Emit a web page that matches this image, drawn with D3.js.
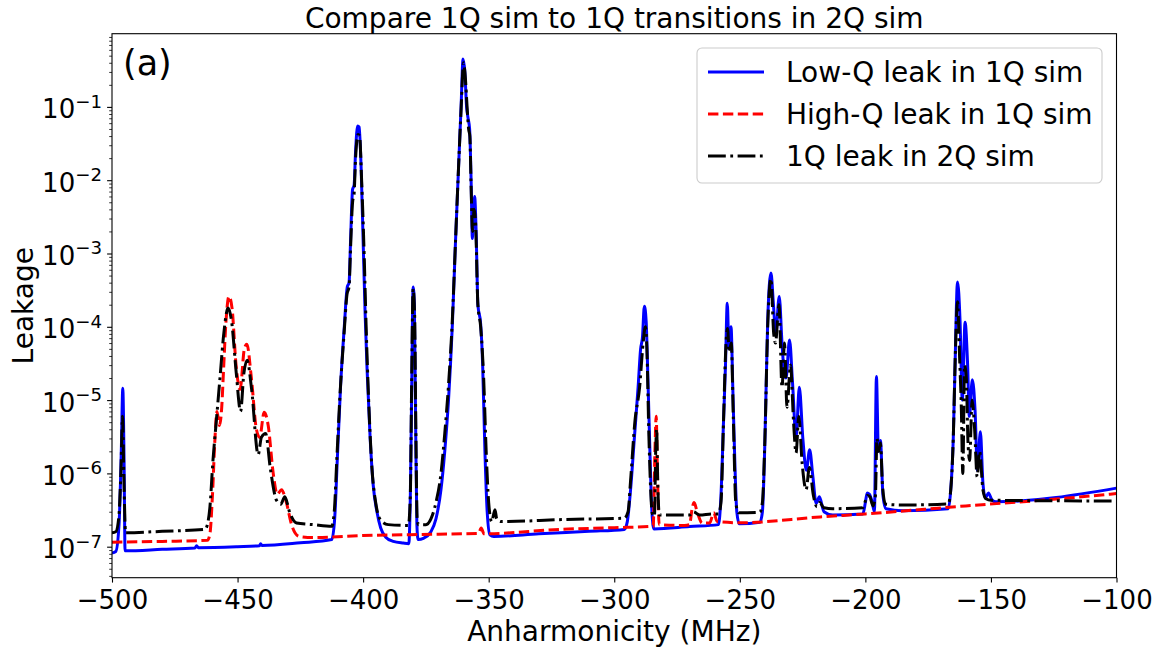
<!DOCTYPE html>
<html>
<head>
<meta charset="utf-8">
<script src="https://cdnjs.cloudflare.com/ajax/libs/d3/7.8.5/d3.min.js"></script>
<style>
  body { margin: 0; background: #fff; }
  text { font-family: "DejaVu Sans", sans-serif; fill: #000; }
</style>
</head>
<body>
<div id="chart"></div>
<script>
// Series names (legend order = draw order)
const seriesNames = ['Low-Q leak in 1Q sim', 'High-Q leak in 1Q sim', '1Q leak in 2Q sim'];

// Low-Q leak in 1Q sim (blue, solid)
const lowQX = [-500, -498.5, -497.2, -496.3, -495.7, -495.2, -494.8, -480, -467, -466.3, -465.6, -450, -441.3, -440.8, -440.3, -425,
  -412.5, -411.3, -410.3, -409, -407.5, -406.3, -405.6, -405, -404.2, -403.6, -403, -402.2, -401.6, -400.8, -400, -399.2, -398.4,
  -397.2, -396, -394.5, -393, -391, -388, -384, -381.8, -381.2, -380.6, -380.1, -379.6, -379.1, -378.6, -378.1, -376, -373, -371,
  -369, -367.5, -366, -364.5, -363.2, -362, -361, -360.2, -359.5, -358.8, -358.2, -357.6, -357, -356.5, -356.1, -355.6, -355,
  -354.3, -353.2, -352.4, -351.5, -350.6, -349.5, -348, -330, -310, -296, -294.8, -293.5, -292, -290.5, -289.5, -288.8, -288,
  -287.3, -286.6, -285.8, -285, -284.2, -270, -258.5, -257.5, -256.5, -255.7, -255, -254.3, -253.5, -252.8, -252, -251.2, -250.2,
  -242, -241, -240, -238.9, -237.6, -236.6, -235.7, -234.3, -233.2, -232.2, -231.6, -230.2, -229, -227.6, -226.3, -224.9, -223.5,
  -222.2, -220.9, -219.6, -218.3, -216.5, -213, -201, -200, -199.3, -198.4, -197.4, -196.4, -195.6, -194.8, -194, -193, -191.8,
  -185, -167, -166, -165, -164.4, -163.3, -162.3, -161.4, -160.3, -159.3, -158.6, -157.4, -156.3, -155.4, -154.2, -153.2, -152.2,
  -151, -149.5, -148, -100];
const lowQY = [8.2e-8, 8.6e-8, 2e-7, 2e-6, 1.45e-5, 1.5e-6, 8.8e-8, 9.2e-8, 9.6e-8, 1.03e-7, 9.7e-8, 1.0e-7, 1.03e-7, 1.1e-7, 1.04e-7, 1.13e-7,
  1.25e-7, 2.5e-7, 1.5e-6, 1.5e-5, 1e-4, 3.5e-4, 4e-4, 1.5e-3, 7.5e-3, 8.5e-3, 2.5e-2, 5.5e-2, 5.3e-2, 1.5e-2, 1.5e-3, 1.5e-4, 2.5e-5,
  3e-6, 7e-7, 3e-7, 1.8e-7, 1.35e-7, 1.18e-7, 1.12e-7, 1.1e-7, 5e-7, 2e-5, 3.5e-4, 2e-4, 5e-6, 2e-7, 1.25e-7, 1.3e-7, 1.6e-7, 2.4e-7,
  6e-7, 2e-6, 1e-5, 1e-4, 1.5e-3, 1.5e-2, 0.1, 0.45, 0.3, 0.1, 0.07, 0.05, 1e-2, 1.6e-3, 3e-3, 6e-3, 2e-3,
  2e-4, 1.1e-4, 3e-5, 2e-6, 3e-7, 1.45e-7, 1.38e-7, 1.5e-7, 1.62e-7, 1.72e-7, 2.2e-7, 6e-7, 3e-6, 1.5e-5, 5e-5, 7e-5, 1.9e-4,
  1.2e-4, 2e-5, 2e-6, 3e-7, 1.75e-7, 1.88e-7, 2e-7, 5e-7, 5e-6, 3e-5, 2.1e-4, 5e-5, 1e-4, 1.5e-5, 1.5e-6, 3e-7, 2.05e-7,
  2.15e-7, 3e-7, 2.8e-6, 1.2e-4, 5.4e-4, 2e-4, 8e-5, 2.6e-4, 6e-5, 2.2e-5, 2e-5, 6.6e-5, 1.7e-5, 3.1e-6, 1.5e-5, 3e-6, 1.1e-6,
  2.1e-6, 9e-7, 3.9e-7, 4.8e-7, 3e-7, 2.7e-7, 2.8e-7, 4e-7, 5.4e-7, 5.2e-7, 4.2e-7, 3e-7, 2.1e-5, 2e-6, 2.8e-6, 5e-7, 3.3e-7,
  3.1e-7, 3.3e-7, 6e-7, 3e-6, 2e-5, 4.1e-4, 1.2e-4, 1e-5, 1.15e-4, 3.1e-5, 6e-6, 1.9e-5, 7e-6, 1.1e-6, 3.7e-6, 7.5e-7, 4.6e-7,
  5.4e-7, 4.3e-7, 4.1e-7, 6.3e-7];

// High-Q leak in 1Q sim (red, dashed)
const highQX = [-500, -480, -462, -461, -460, -459, -458.2, -457.2, -456.3, -455.6, -454.6, -453.4, -452.2, -450.6, -449, -447.3,
  -446.3, -444.5, -442.5, -441.2, -439.4, -437.8, -435.8, -434.2, -432.5, -430.7, -428.5, -425.5, -420, -400, -370, -354, -353,
  -351.8, -322, -300, -284.5, -283.8, -283.3, -282.8, -282.1, -272, -270, -269, -268.2, -267, -265, -262, -260.4, -259, -250,
  -218, -200, -160, -130, -100];
const highQY = [1.15e-7, 1.18e-7, 1.22e-7, 1.5e-7, 5e-7, 3e-6, 7e-6, 4.5e-6, 8e-6, 2.5e-5, 1.2e-4, 2.6e-4, 1.8e-4, 3e-5, 1.4e-5, 5e-5,
  5.8e-5, 2e-5, 4e-6, 3.1e-6, 6.8e-6, 4.5e-6, 1e-6, 5.2e-7, 6e-7, 4.2e-7, 2e-7, 1.38e-7, 1.33e-7, 1.42e-7, 1.48e-7, 1.52e-7, 1.8e-7,
  1.5e-7, 1.72e-7, 1.82e-7, 1.9e-7, 2e-6, 6e-6, 1e-6, 2e-7, 1.95e-7, 2e-7, 3.3e-7, 4e-7, 3e-7, 2.1e-7, 2.1e-7, 2.9e-7, 2.2e-7, 2.12e-7,
  2.55e-7, 2.8e-7, 3.6e-7, 4.3e-7, 5.3e-7];

// 1Q leak in 2Q sim (black, dash-dot)
const twoQX = [-500, -498.5, -497.3, -496.4, -495.8, -495.3, -494.6, -480, -463, -462.2, -461, -459.8, -458.5, -457, -455.5, -453.8,
  -452.4, -450.5, -448.8, -447.5, -446.2, -444.4, -441.8, -440.5, -438.8, -437, -434.5, -432.8, -431.2, -429.2, -426.5, -420,
  -412.5, -411.5, -410.5, -409.2, -407.6, -406.4, -405.6, -405, -404.2, -403.6, -403, -402, -401.4, -400.6, -399.6, -398.8, -397.8,
  -396.5, -395, -393, -390, -382, -381.2, -380.7, -380.1, -379.5, -379, -378.5, -378, -375, -373, -371, -369, -367.5, -366, -364.5,
  -363.2, -362, -361, -360, -359.3, -358.6, -358, -357.5, -357, -356.4, -355.8, -355.2, -354.3, -353.2, -352, -351, -350, -348.8,
  -347.5, -346.8, -345, -320, -296, -294.5, -293.5, -291.8, -289.9, -288.5, -287.6, -287, -286.2, -284.8, -284, -283.5, -283.1,
  -282.7, -282, -270, -268.5, -266, -261, -258.5, -257.5, -256.5, -255.6, -254.9, -254.2, -253.4, -252.6, -251.6, -250.5, -242,
  -241, -240, -238.9, -237.6, -236.5, -235.8, -234.4, -233.2, -232.2, -231.2, -229.8, -228.6, -227.6, -226.5, -225.2, -223.6,
  -222.3, -220.7, -219.3, -218.2, -216.5, -213, -201, -200, -199.2, -198.2, -197, -196, -195.4, -194.7, -194, -193.2, -192, -185,
  -167, -166, -165, -164.2, -163.3, -162.5, -161.8, -161.2, -160.5, -159.8, -159.2, -158.5, -157.5, -156.5, -155.5, -154.5,
  -153.2, -152, -150, -100];
const twoQY = [1.55e-7, 1.6e-7, 2.5e-7, 1.2e-6, 6e-6, 1e-6, 1.55e-7, 1.62e-7, 1.72e-7, 1.9e-7, 3.5e-7, 1.5e-6, 5e-6, 2e-5, 8e-5, 1.8e-4,
  1.2e-4, 2.3e-5, 7e-6, 2.3e-5, 3.5e-5, 1.4e-5, 1.8e-6, 3.1e-6, 3.5e-6, 1.2e-6, 4.3e-7, 3.8e-7, 4.8e-7, 2.9e-7, 2.1e-7, 2e-7,
  1.9e-7, 3e-7, 1.5e-6, 1.2e-5, 8e-5, 2.8e-4, 3.5e-4, 1.2e-3, 5e-3, 6.5e-3, 2e-2, 4.2e-2, 4e-2, 1e-2, 1e-3, 1e-4, 1e-5,
  1.2e-6, 4e-7, 2.3e-7, 2e-7, 1.95e-7, 5e-7, 1.5e-5, 3.3e-4, 1.5e-4, 4e-6, 2.5e-7, 2e-7, 2e-7, 2.4e-7, 4e-7, 1e-6, 3.5e-6, 1.6e-5, 1.2e-4,
  1.5e-3, 1.5e-2, 9e-2, 0.4, 0.25, 0.1, 0.05, 0.04, 8e-3, 2e-3, 4e-3, 2.5e-3, 2e-4, 1e-4, 2e-5, 2e-6, 4e-7, 2.2e-7,
  3.2e-7, 2.4e-7, 2.2e-7, 2.35e-7, 2.45e-7, 3e-7, 8e-7, 5e-6, 1.5e-5, 6e-5, 1e-4, 5e-5, 3.2e-6, 2.8e-7, 2.6e-7, 2e-6, 4e-6,
  8e-7, 2.7e-7, 2.7e-7, 3e-7, 2.7e-7, 2.8e-7, 2.8e-7, 4e-7, 5e-6, 5e-5, 9.5e-5, 4.5e-5, 6e-5, 6e-6, 4e-7, 2.9e-7, 2.95e-7,
  4e-7, 3e-6, 1e-4, 4.5e-4, 8e-5, 6e-5, 2e-4, 1.5e-5, 6e-5, 8e-6, 3e-5, 5e-6, 1.9e-6, 6e-6, 1.4e-6, 6e-7,
  1.2e-6, 5e-7, 3.5e-7, 4e-7, 3.4e-7, 3.3e-7, 3.4e-7, 4.2e-7, 5e-7, 4.8e-7, 3.6e-7, 5e-7, 3e-6, 2e-6, 2.6e-6, 7e-7, 3.8e-7, 3.7e-7,
  3.85e-7, 6e-7, 3e-6, 4e-5, 2.2e-4, 4e-5, 8e-6, 1e-6, 3e-5, 2e-5, 3e-6, 1.5e-6, 1e-5, 4e-6, 9e-7, 2e-6,
  6e-7, 4.5e-7, 4.3e-7, 4.2e-7];

// Axis ticks
const xTicks = [-500, -450, -400, -350, -300, -250, -200, -150, -100];
const yExponents = [-7, -6, -5, -4, -3, -2, -1];

const width = 1162, height = 652;
const plot = { left: 112, right: 1116.5, top: 33.7, bottom: 577.7 };

const svg = d3.select('#chart')
  .append('svg')
  .attr('width', width)
  .attr('height', height);

const xScale = d3.scaleLinear()
  .domain([-500, -100])
  .range([plot.left, plot.right]);

const yScale = d3.scaleLog()
  .domain([Math.pow(10, -7.423), Math.pow(10, -0.0014)])
  .range([plot.bottom, plot.top]);

svg.append('clipPath').attr('id', 'clip')
  .append('rect')
  .attr('x', plot.left).attr('y', plot.top)
  .attr('width', plot.right - plot.left).attr('height', plot.bottom - plot.top);

// Lines
const series = [
  { x: lowQX, y: lowQY, color: '#0000ff', dash: null },
  { x: highQX, y: highQY, color: '#ff0000', dash: '10.4,4.5' },
  { x: twoQX, y: twoQY, color: '#000000', dash: '17.8,4.5,2.8,4.5' }
];

const line = d3.line()
  .x(d => xScale(d[0]))
  .y(d => yScale(d[1]))
  .curve(d3.curveMonotoneX);

const lines = svg.append('g').attr('clip-path', 'url(#clip)');
series.forEach(s => {
  lines.append('path')
    .datum(s.x.map((v, i) => [v, s.y[i]]))
    .attr('d', line)
    .attr('fill', 'none')
    .attr('stroke', s.color)
    .attr('stroke-width', 3)
    .attr('stroke-linejoin', 'round')
    .attr('stroke-dasharray', s.dash);
});

// X axis
const xAxis = svg.append('g')
  .attr('transform', `translate(0, ${plot.bottom})`)
  .call(d3.axisBottom(xScale).tickValues(xTicks).tickSize(4.9).tickPadding(4.9)
    .tickFormat(d => d3.format('d')(d).replace('-', '\u2212')));
xAxis.select('.domain').remove();
xAxis.selectAll('line').attr('stroke-width', 1.1);
xAxis.selectAll('text').attr('font-size', '26px').attr('font-family', 'DejaVu Sans').attr('dy', '0.84em');

// Y axis major ticks
const yAxis = svg.append('g')
  .attr('transform', `translate(${plot.left}, 0)`)
  .call(d3.axisLeft(yScale).tickValues(yExponents.map(e => Math.pow(10, e))).tickSize(4.9).tickFormat(''));
yAxis.select('.domain').remove();
yAxis.selectAll('line').attr('stroke-width', 1.1);

// Y axis minor ticks
const minorTicks = [];
for (let e = -8; e <= -1; e++) {
  for (let m = 2; m <= 9; m++) {
    const v = m * Math.pow(10, e);
    if (v >= yScale.domain()[0] && v <= yScale.domain()[1]) minorTicks.push(v);
  }
}
const yMinor = svg.append('g')
  .attr('transform', `translate(${plot.left}, 0)`)
  .call(d3.axisLeft(yScale).tickValues(minorTicks).tickSize(2.8).tickFormat(''));
yMinor.select('.domain').remove();
yMinor.selectAll('line').attr('stroke-width', 0.8);

// Y tick labels 10^n
yExponents.forEach(e => {
  const t = svg.append('text')
    .attr('x', plot.left - 10)
    .attr('y', yScale(Math.pow(10, e)) + 11.5)
    .attr('text-anchor', 'end')
    .attr('font-size', '26px');
  t.append('tspan').text('10');
  t.append('tspan').attr('dy', -10.5).attr('font-size', '18.2px').text('\u2212' + Math.abs(e));
});

// Frame
svg.append('rect')
  .attr('x', plot.left).attr('y', plot.top)
  .attr('width', plot.right - plot.left).attr('height', plot.bottom - plot.top)
  .attr('fill', 'none').attr('stroke', '#000').attr('stroke-width', 1.1);

// Title and labels
svg.append('text')
  .attr('x', (plot.left + plot.right) / 2).attr('y', 28)
  .attr('text-anchor', 'middle').attr('font-size', '28px')
  .text('Compare 1Q sim to 1Q transitions in 2Q sim');

svg.append('text')
  .attr('x', (plot.left + plot.right) / 2).attr('y', 641)
  .attr('text-anchor', 'middle').attr('font-size', '28px')
  .text('Anharmonicity (MHz)');

svg.append('text')
  .attr('transform', `translate(33, ${(plot.top + plot.bottom) / 2}) rotate(-90)`)
  .attr('text-anchor', 'middle').attr('font-size', '28px')
  .text('Leakage');

svg.append('text')
  .attr('x', 123).attr('y', 75)
  .attr('font-size', '35px')
  .text('(a)');

// Legend
const legend = svg.append('g');
legend.append('rect')
  .attr('x', 697).attr('y', 48)
  .attr('width', 405).attr('height', 135)
  .attr('rx', 5).attr('ry', 5)
  .attr('fill', '#fff').attr('fill-opacity', 0.8)
  .attr('stroke', '#cccccc').attr('stroke-width', 1.1);

seriesNames.forEach((name, i) => {
  const y = 72 + i * 42;
  legend.append('line')
    .attr('x1', 708).attr('x2', 764)
    .attr('y1', y).attr('y2', y)
    .attr('stroke', series[i].color)
    .attr('stroke-width', 3)
    .attr('stroke-dasharray', series[i].dash);
  legend.append('text')
    .attr('x', 786).attr('y', y + 10)
    .attr('font-size', '28px')
    .text(name);
});
</script>
</body>
</html>
